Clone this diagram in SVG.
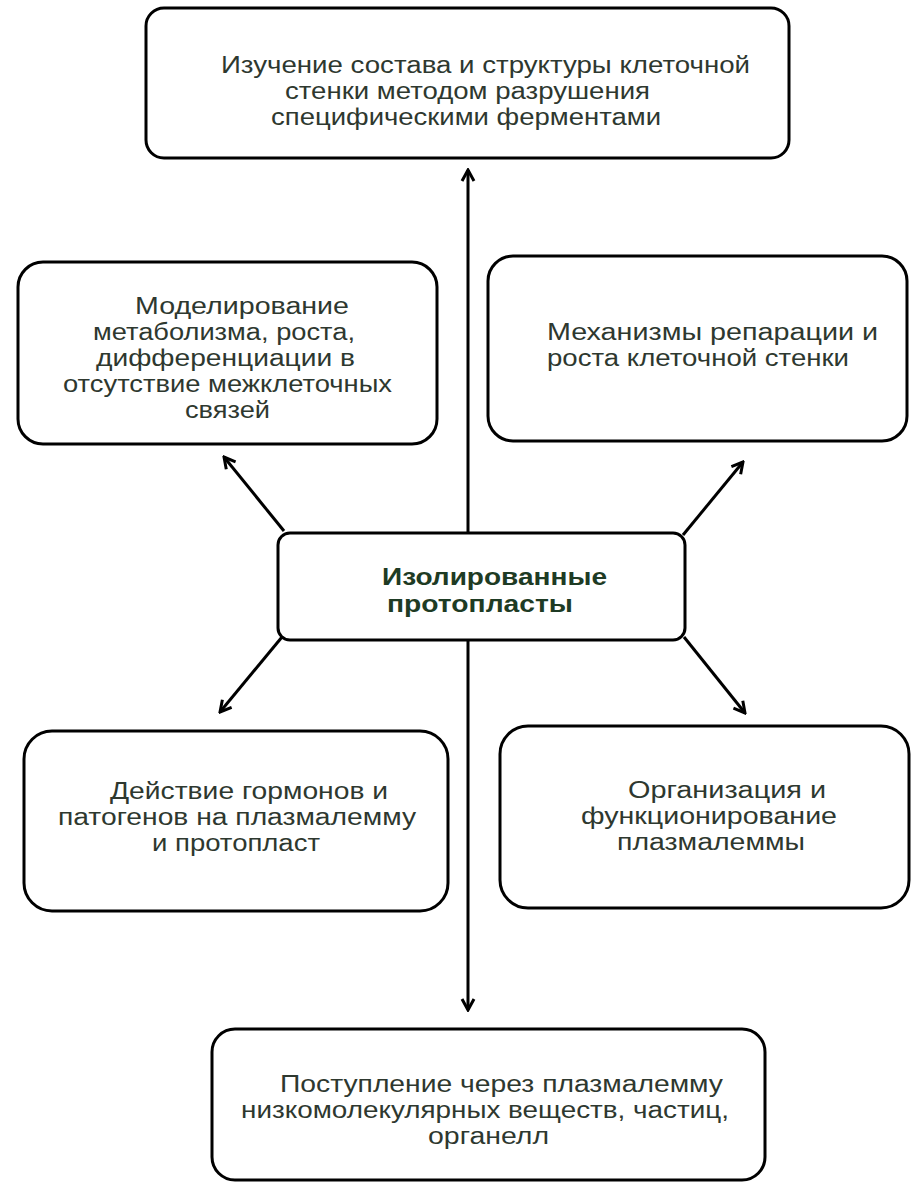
<svg xmlns="http://www.w3.org/2000/svg" width="912" height="1183" viewBox="0 0 912 1183">
<style>
.box{fill:#ffffff;stroke:#000000;stroke-width:3}
.t{font-family:"Liberation Sans",Arial,sans-serif;font-size:23px;fill:#2e382f}
.b{font-family:"Liberation Sans",Arial,sans-serif;font-size:24px;font-weight:bold;fill:#1e3b24}
.c{stroke:#000000;stroke-width:3;fill:none;marker-end:url(#ah)}
</style>
<defs>
<marker id="ah" viewBox="-14 -9 16 18" markerWidth="16" markerHeight="18" refX="0" refY="0" orient="auto" markerUnits="userSpaceOnUse">
<path d="M-11,-6 L0,0 L-11,6" fill="none" stroke="#000000" stroke-width="3"/>
</marker>
</defs>
<rect width="912" height="1183" fill="#ffffff"/>
<g id="connectors">
<line class="c" x1="468" y1="533" x2="468" y2="170"/>
<line class="c" x1="468" y1="640" x2="468" y2="1010"/>
<line class="c" x1="284" y1="531" x2="224" y2="457"/>
<line class="c" x1="683" y1="535" x2="743" y2="462"/>
<line class="c" x1="282" y1="637" x2="220" y2="712"/>
<line class="c" x1="684" y1="637" x2="745" y2="713"/>
</g>
<g id="n-top">
<rect class="box" x="146" y="8" width="643" height="150" rx="18"/>
<text class="t" x="221" y="73" textLength="529" lengthAdjust="spacingAndGlyphs">Изучение состава и структуры клеточной</text>
<text class="t" x="285" y="99" textLength="365" lengthAdjust="spacingAndGlyphs">стенки методом разрушения</text>
<text class="t" x="271" y="125" textLength="390" lengthAdjust="spacingAndGlyphs">специфическими ферментами</text>
</g>
<g id="n-model">
<rect class="box" x="18" y="262" width="419" height="182" rx="25"/>
<text class="t" x="135" y="314" textLength="214" lengthAdjust="spacingAndGlyphs">Моделирование</text>
<text class="t" x="93" y="340" textLength="262" lengthAdjust="spacingAndGlyphs">метаболизма, роста,</text>
<text class="t" x="96" y="366" textLength="259" lengthAdjust="spacingAndGlyphs">дифференциации в</text>
<text class="t" x="63" y="392" textLength="329" lengthAdjust="spacingAndGlyphs">отсутствие межклеточных</text>
<text class="t" x="185" y="418" textLength="85" lengthAdjust="spacingAndGlyphs">связей</text>
</g>
<g id="n-repair">
<rect class="box" x="488" y="256" width="419" height="185" rx="25"/>
<text class="t" x="547" y="340" textLength="331" lengthAdjust="spacingAndGlyphs">Механизмы репарации и</text>
<text class="t" x="547" y="366" textLength="302" lengthAdjust="spacingAndGlyphs">роста клеточной стенки</text>
</g>
<g id="n-center">
<rect class="box" x="278" y="533" width="407" height="107" rx="12"/>
<text class="b" x="382" y="585" textLength="225" lengthAdjust="spacingAndGlyphs">Изолированные</text>
<text class="b" x="387" y="612" textLength="186" lengthAdjust="spacingAndGlyphs">протопласты</text>
</g>
<g id="n-hormones">
<rect class="box" x="24" y="731" width="424" height="180" rx="28"/>
<text class="t" x="110" y="799" textLength="278" lengthAdjust="spacingAndGlyphs">Действие гормонов и</text>
<text class="t" x="58" y="825" textLength="358" lengthAdjust="spacingAndGlyphs">патогенов на плазмалемму</text>
<text class="t" x="152" y="851" textLength="168" lengthAdjust="spacingAndGlyphs">и протопласт</text>
</g>
<g id="n-plasma">
<rect class="box" x="500" y="726" width="409" height="182" rx="28"/>
<text class="t" x="628" y="798" textLength="198" lengthAdjust="spacingAndGlyphs">Организация и</text>
<text class="t" x="581" y="824" textLength="256" lengthAdjust="spacingAndGlyphs">функционирование</text>
<text class="t" x="617" y="850" textLength="188" lengthAdjust="spacingAndGlyphs">плазмалеммы</text>
</g>
<g id="n-intake">
<rect class="box" x="212" y="1029" width="553" height="151" rx="23"/>
<text class="t" x="280" y="1092" textLength="443" lengthAdjust="spacingAndGlyphs">Поступление через плазмалемму</text>
<text class="t" x="241" y="1118" textLength="488" lengthAdjust="spacingAndGlyphs">низкомолекулярных веществ, частиц,</text>
<text class="t" x="428" y="1144" textLength="121" lengthAdjust="spacingAndGlyphs">органелл</text>
</g>
</svg>
